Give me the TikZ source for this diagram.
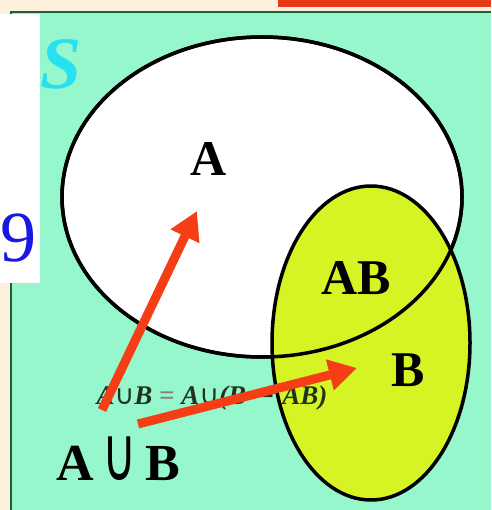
\documentclass[tikz,border=0pt]{standalone}
\usepackage{fontspec}
\setmainfont{Liberation Serif}
\newfontfamily\symfont{DejaVu Sans}
\usetikzlibrary{shapes.geometric,arrows.meta}
\definecolor{cream}{RGB}{253,241,222}
\definecolor{topred}{RGB}{232,58,22}
\definecolor{frame}{RGB}{30,95,55}
\definecolor{mint}{RGB}{150,247,204}
\definecolor{lime}{RGB}{214,244,36}
\definecolor{arrowred}{RGB}{246,62,22}
\definecolor{cyanS}{RGB}{40,225,240}
\definecolor{blue9}{RGB}{24,24,225}
\definecolor{formula}{RGB}{30,50,30}
\tikzset{
  setshape/.style={ellipse, inner sep=0pt, line width=3.5pt},
  biglabel/.style={font=\fontsize{50}{50}\selectfont\bfseries, inner sep=0pt},
  redarrow/.style={draw=arrowred, line width=9pt, -{Triangle[length=28pt,width=30pt]}},
}
\newcommand{\tallcup}{{\symfont\mdseries\scalebox{0.9}[1.45]{∪}}}
\begin{document}
\begin{tikzpicture}[x=1pt,y=-1pt]
\useasboundingbox (0,0) rectangle (491,510);
% background
\fill[cream] (0,0) rectangle (491,510);
\fill[topred] (278,0) rectangle (491,7);
\fill[mint] (11,12) rectangle (491,510);
\draw[frame, line width=2pt] (11,510) -- (11,12) -- (491,12);
\fill[white] (0,14) rectangle (40,283);
\node[text=blue9, anchor=east, inner sep=0pt, font=\fontsize{72}{72}\selectfont] (nine) at (37,238) {9};
\node[text=cyanS, inner sep=0pt, font=\fontsize{74}{74}\selectfont\bfseries\itshape] (S) at (61,64) {S};
% sets
\node[setshape, fill=white, draw=black, minimum width=400pt, minimum height=320pt] (setA) at (262,197) {};
\node[setshape, fill=lime, draw=black, minimum width=198pt, minimum height=314pt] (setB) at (371,343) {};
\draw[line width=3.5pt] (setA.center) ellipse [x radius=200, y radius=160];
% labels
\node[biglabel] (labA) at (209,159) {A};
\node[biglabel] (labAB) at (356,278) {AB};
\node[biglabel] (labB) at (408,370) {B};
\node[biglabel, font=\fontsize{52}{52}\selectfont\bfseries] (labU) at (118,459) {A\,\tallcup\,B};
\node[inner sep=0pt, text=formula, font=\fontsize{27}{27}\selectfont\bfseries\itshape] (form) at (212,398)
  {A{\symfont\mdseries ∪}B {\color{gray}=} A{\symfont\mdseries ∪}(B {\symfont −} AB)};
% arrows
\coordinate (a1s) at (102,410);
\coordinate (a1e) at (197,211);
\coordinate (a2s) at (138,424);
\coordinate (a2e) at (357,368);
\draw[redarrow] (a1s) -- (a1e);
\draw[redarrow] (a2s) -- (a2e);
\end{tikzpicture}
\end{document}
